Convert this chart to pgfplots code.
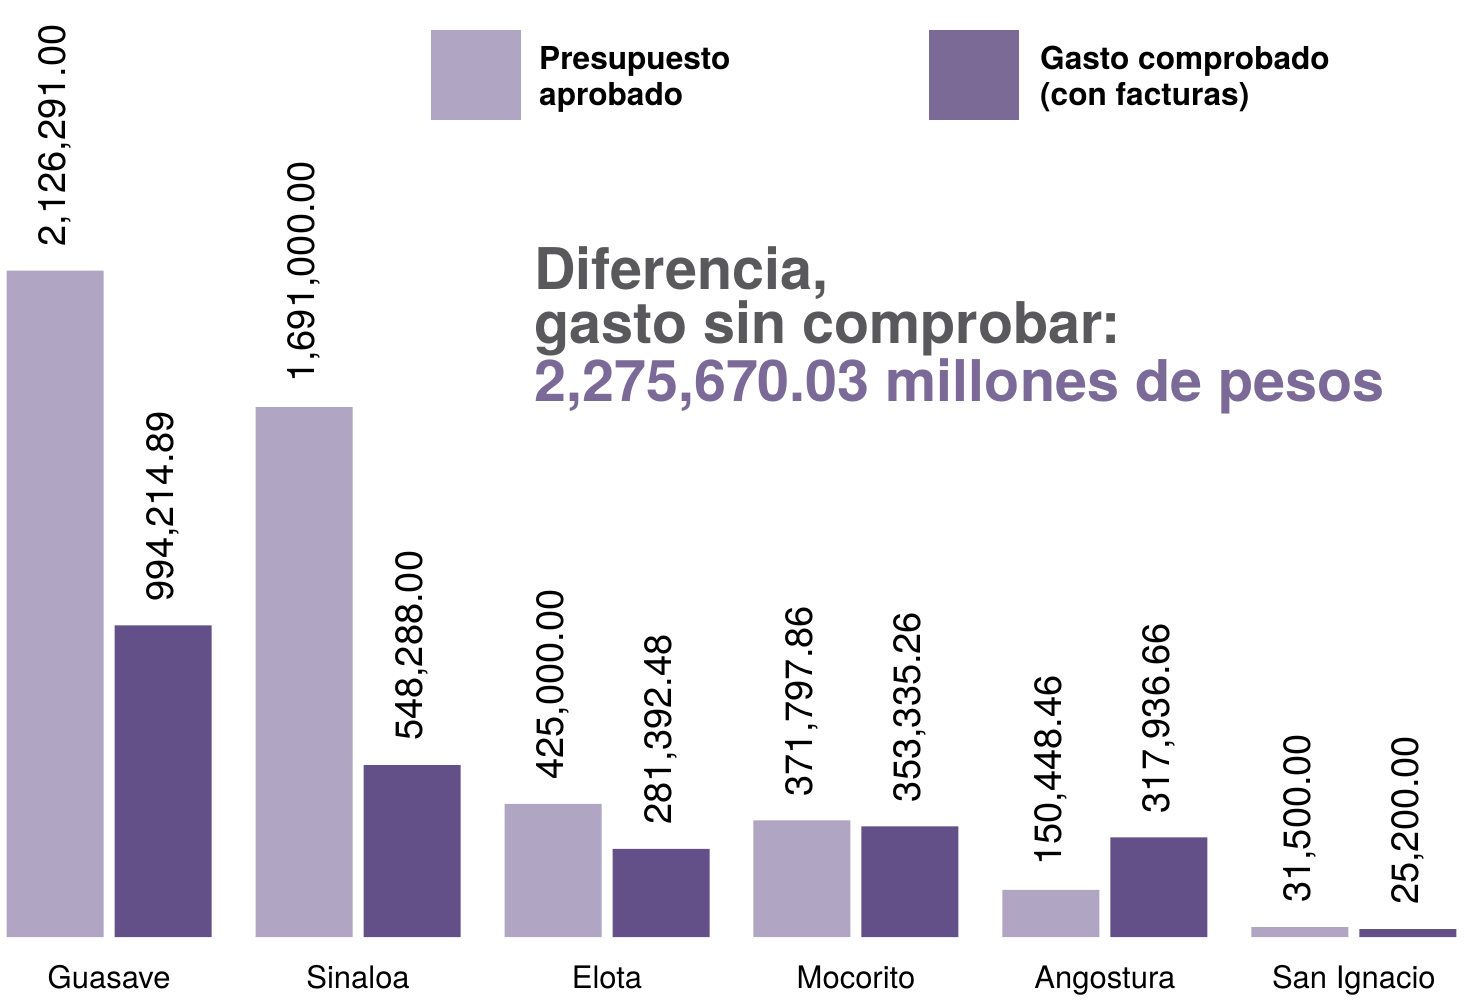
\documentclass[border=0pt]{standalone}
\usepackage{fontspec}
\setmainfont{TeX Gyre Heros}
\usepackage{pgfplots}
\usepackage{pgfplotstable}
\pgfplotsset{compat=1.18}
\definecolor{lightbar}{HTML}{B0A5C2}
\definecolor{darkbar}{HTML}{645088}
\definecolor{legdark}{HTML}{7B6A96}
\definecolor{titlegray}{HTML}{59595B}
\definecolor{titlepurple}{HTML}{7B6A98}

\pgfplotstableread{
x a alab b blab
0 2126291.00 2,126,291.00 994214.89 994,214.89
1 1691000.00 1,691,000.00 548288.00 548,288.00
2 425000.00 425,000.00 281392.48 281,392.48
3 371797.86 371,797.86 353335.26 353,335.26
4 150448.46 150,448.46 317936.66 317,936.66
5 31500.00 31,500.00 25200.00 25,200.00
}\datatable

\begin{document}
\begin{tikzpicture}
\path[use as bounding box] (0,0) rectangle (1466pt,999pt);
\begin{axis}[
  at={(7pt,62pt)}, anchor=south west,
  scale only axis, width=1449pt, height=937pt,
  xmin=-0.41, xmax=5.41, ymin=0, ymax=2990000,
  clip=false,
  axis line style={draw=none},
  major tick length=0pt,
  ytick=\empty,
  xtick={0,1,2,3,4,5},
  xticklabels={Guasave,Sinaloa,Elota,Mocorito,Angostura,San Ignacio},
  xticklabel style={anchor=base, inner sep=0pt, yshift=-51pt, font=\fontsize{31}{31}\selectfont, text=black},
  ybar, bar width=97pt,
  nodes near coords,
  point meta=explicit symbolic,
  nodes near coords style={rotate=90, anchor=west, inner xsep=24pt, inner ysep=0pt,
    font=\fontsize{38}{38}\selectfont, text=black},
]
\addplot[fill=lightbar, draw=none, bar shift=-54pt] table[x=x, y=a, meta=alab] {\datatable};
\addplot[fill=darkbar, draw=none, bar shift=54pt] table[x=x, y=b, meta=blab] {\datatable};
\end{axis}

% legend
\fill[lightbar] (431pt,969pt) rectangle (521pt,879pt);
\fill[legdark] (929pt,969pt) rectangle (1019pt,879pt);
\begin{scope}[every node/.style={anchor=base west, inner sep=0pt, font=\bfseries\fontsize{31.6}{31.6}\selectfont}]
\node at (539pt,929.5pt) {Presupuesto};
\node at (539pt,893.5pt) {aprobado};
\node at (1040pt,929.5pt) {Gasto comprobado};
\node at (1040pt,893.5pt) {(con facturas)};
\end{scope}

% title
\begin{scope}[every node/.style={anchor=base west, inner sep=0pt, font=\bfseries\fontsize{57.5}{57.5}\selectfont}]
\node[text=titlegray] at (534pt,709pt) {Diferencia,};
\node[text=titlegray] at (534pt,655pt) {gasto sin comprobar:};
\node[text=titlepurple] at (534pt,597pt) {2,275,670.03 millones de pesos};
\end{scope}
\end{tikzpicture}
\end{document}
